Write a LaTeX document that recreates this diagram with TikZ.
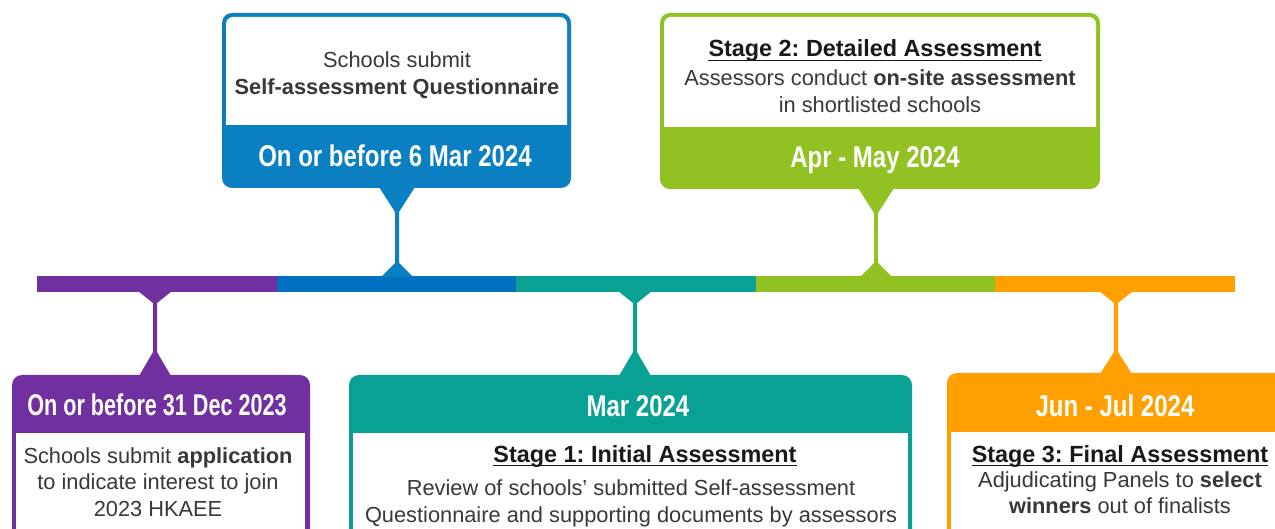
\documentclass[tikz,border=0pt]{standalone}
\usepackage{fontspec}
\usepackage{graphicx}
\setmainfont{Liberation Sans}
\newfontfamily\narrowfont[FakeStretch=0.8]{Liberation Sans}
\definecolor{cpurple}{HTML}{7030A0}
\definecolor{cblue}{HTML}{0A7FC2}
\definecolor{cbluebar}{HTML}{0070C0}
\definecolor{cteal}{HTML}{0AA195}
\definecolor{cgreen}{HTML}{92C123}
\definecolor{corange}{HTML}{FFA000}
\definecolor{txt}{HTML}{383838}
\frenchspacing
\begin{document}
\begin{tikzpicture}[x=1pt,y=-1pt,
  hdr/.style={font=\narrowfont\bfseries\fontsize{30}{30}\selectfont, text=white, inner sep=0pt, anchor=base},
  body/.style={font=\fontsize{21.8}{26}\selectfont, text=txt, inner sep=0pt, anchor=base},
  ttl/.style={font=\bfseries\fontsize{23.4}{26}\selectfont, text=black!90, inner sep=0pt, anchor=base},
  seg/.style={inner sep=0pt, outer sep=0pt, minimum width=240pt, minimum height=16pt},
  box/.style={inner sep=0pt, outer sep=0pt, rounded corners=10pt},
  uline/.style={line width=1.8pt, black!90}]
\useasboundingbox (0,0) rectangle (1275,529);
\clip (0,0) rectangle (1275,529);

% timeline bar
\node[seg, fill=cpurple] (bar1) at (157,284) {};
\node[seg, fill=cbluebar] (bar2) at (396.5,284) {};
\node[seg, fill=cteal] (bar3) at (636,284) {};
\node[seg, fill=cgreen] (bar4) at (875.5,284) {};
\node[seg, fill=corange] (bar5) at (1114.5,284) {};

% ---------- purple box (bottom) ----------
\fill[box, cpurple] (12,375) rectangle (310,600);
\fill[white] (16,433) rectangle (305,620);
\node[hdr] (h1) at (157,415) {\scalebox{0.9}[1]{On or before 31 Dec 2023}};
\node[body] (b1a) at (158,463) {Schools submit \textbf{application}};
\node[body] (b1b) at (158,489.5) {to indicate interest to join};
\node[body] (b1c) at (158,516) {2023 HKAEE};
\coordinate (p1) at (155,292);
\fill[cpurple] (p1) ++(-17,-1) -- ++(34,0) -- ++(-15,12) -- ++(0,49) -- ++(14,24) -- ++(-32,0) -- ++(14,-24) -- ++(0,-49) -- cycle;

% ---------- blue box (top) ----------
\fill[box, cblue] (222,13) rectangle (571,188);
\fill[white, rounded corners=7pt] (226,17) rectangle (567,140);
\fill[cblue] (222,125) rectangle (571,150);
\node[body] (b2a) at (397,68) {Schools submit};
\node[body] (b2b) at (397,95) {\textbf{Self-assessment Questionnaire}};
\node[hdr] (h2) at (395,167) {On or before 6 Mar 2024};
\coordinate (p2) at (397,188);
\fill[cblue] (p2) ++(-18,-1) -- ++(36,0) -- ++(-16,25) -- ++(0,51) -- ++(14,14) -- ++(-32,0) -- ++(14,-14) -- ++(0,-51) -- cycle;

% ---------- teal box (bottom) ----------
\fill[box, cteal] (349,375) rectangle (912,600);
\fill[white] (353,433) rectangle (908,620);
\node[hdr] (h3) at (638,417) {Mar 2024};
\node[ttl] (t3) at (645,462) {Stage 1: Initial Assessment};
\draw[uline] ([yshift=-3.5pt]t3.base west) -- ([yshift=-3.5pt]t3.base east);
\node[body] (b3a) at (631,495) {Review of schools’ submitted Self-assessment};
\node[body] (b3b) at (631,522) {Questionnaire and supporting documents by assessors};
\coordinate (p3) at (635,292);
\fill[cteal] (p3) ++(-17,-1) -- ++(34,0) -- ++(-15,12) -- ++(0,49) -- ++(14,24) -- ++(-32,0) -- ++(14,-24) -- ++(0,-49) -- cycle;

% ---------- green box (top) ----------
\fill[box, cgreen] (660,13) rectangle (1100,189);
\fill[white, rounded corners=7pt] (664,17) rectangle (1096,140);
\fill[cgreen] (660,127) rectangle (1100,150);
\node[ttl] (t4) at (875,57) {Stage 2: Detailed Assessment};
\draw[uline] ([yshift=-3.5pt]t4.base west) -- ([yshift=-3.5pt]t4.base east);
\node[body] (b4a) at (880,86) {Assessors conduct \textbf{on-site assessment}};
\node[body] (b4b) at (880,113) {in shortlisted schools};
\node[hdr] (h4) at (875,168) {Apr - May 2024};
\coordinate (p4) at (876,189);
\fill[cgreen] (p4) ++(-18,-1) -- ++(36,0) -- ++(-16,25) -- ++(0,50) -- ++(14,14) -- ++(-32,0) -- ++(14,-14) -- ++(0,-50) -- cycle;

% ---------- orange box (bottom) ----------
\fill[box, corange] (947,373) rectangle (1300,600);
\fill[white] (951,432) rectangle (1296,620);
\node[hdr] (h5) at (1115,417) {Jun - Jul 2024};
\node[ttl] (t5) at (1120,462) {Stage 3: Final Assessment};
\draw[uline] ([yshift=-3.5pt]t5.base west) -- ([yshift=-3.5pt]t5.base east);
\node[body] (b5a) at (1120,487) {Adjudicating Panels to \textbf{select}};
\node[body] (b5b) at (1120,513) {\textbf{winners} out of finalists};
\coordinate (p5) at (1116,292);
\fill[corange] (p5) ++(-17,-1) -- ++(34,0) -- ++(-15,12) -- ++(0,49) -- ++(14,22) -- ++(-32,0) -- ++(14,-22) -- ++(0,-49) -- cycle;
\end{tikzpicture}
\end{document}
